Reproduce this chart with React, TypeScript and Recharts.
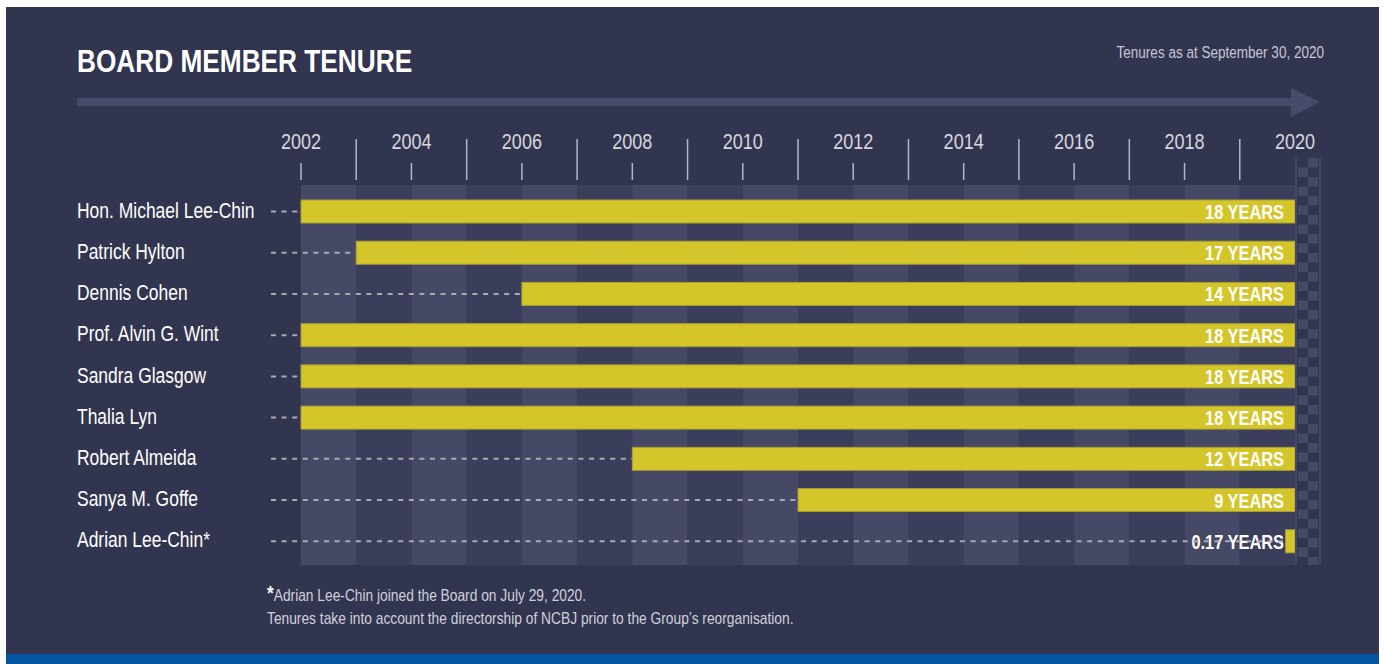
import React from 'react'
import { BarChart, Bar, XAxis, YAxis, ReferenceArea } from 'recharts'

const FONT = "'Liberation Sans', Arial, sans-serif"
const NARROW = 0.82

const years = [2002, 2003, 2004, 2005, 2006, 2007, 2008, 2009, 2010, 2011, 2012, 2013, 2014, 2015, 2016, 2017, 2018, 2019, 2020]
const members = [
  'Hon. Michael Lee-Chin',
  'Patrick Hylton',
  'Dennis Cohen',
  'Prof. Alvin G. Wint',
  'Sandra Glasgow',
  'Thalia Lyn',
  'Robert Almeida',
  'Sanya M. Goffe',
  'Adrian Lee-Chin*',
]
const tenures = [18, 17, 14, 18, 18, 18, 12, 9, 0.17]
const tenureLabels = ['18 YEARS', '17 YEARS', '14 YEARS', '18 YEARS', '18 YEARS', '18 YEARS', '12 YEARS', '9 YEARS', '0.17 YEARS']
const asAtYear = 2020

const data = members.map((name, i) => ({
  name,
  range: [asAtYear - tenures[i], asAtYear],
  label: tenureLabels[i],
}))

const PANEL = '#32354f'
const LIGHT = '#464966'
const DARK = '#3b3e5a'
const YELLOW = '#d4c52a'

// condensed look: Liberation Sans squeezed horizontally
function NText({ x, y, anchor = 'start', size, weight = 'normal', fill, children }: any) {
  return (
    <text
      transform={`translate(${x},${y}) scale(${NARROW},1)`}
      textAnchor={anchor}
      fontSize={size}
      fontWeight={weight}
      fill={fill}
      fontFamily={FONT}
    >
      {children}
    </text>
  )
}

function YearTick(props: any) {
  const { x, payload } = props
  const v = payload.value
  if (v % 2 === 1) {
    return <line x1={x} x2={x} y1={139} y2={180} stroke="#b4b6c6" strokeWidth={1.5} />
  }
  if (v === asAtYear) {
    return (
      <g>
        <defs>
          <pattern id="chk" x={x + 3} y={158} width={20} height={19} patternUnits="userSpaceOnUse">
            <rect x={10} y={0} width={10} height={9.5} fill={LIGHT} />
            <rect x={0} y={9.5} width={10} height={9.5} fill={LIGHT} />
          </pattern>
        </defs>
        <rect x={x + 3} y={158} width={20} height={407} fill="url(#chk)" />
        <rect x={x} y={158} width={2} height={407} fill={LIGHT} />
        <rect x={x + 24} y={158} width={2} height={407} fill={LIGHT} />
        <NText x={x} y={149} anchor="middle" size={22} fill="#d6d7df">{v}</NText>
      </g>
    )
  }
  return (
    <g>
      <NText x={x} y={149} anchor="middle" size={22} fill="#d6d7df">{v}</NText>
      <line x1={x} x2={x} y1={163} y2={180} stroke="#b4b6c6" strokeWidth={1.5} />
    </g>
  )
}

function NameTick(props: any) {
  const { y, payload } = props
  return <NText x={77} y={y + 6} size={21.3} fill="#ffffff">{payload.value}</NText>
}

function TenureBar(props: any) {
  const { x, y, width, height, payload } = props
  const cy = y + height / 2
  return (
    <g>
      <rect x={x} y={y} width={width} height={height} fill={YELLOW} stroke="#a89f33" strokeWidth={1} />
      <NText x={x + width - 11} y={cy + 7.5} anchor="end" size={20} weight="bold" fill="#ffffff">
        {payload.label}
      </NText>
      <line x1={271} x2={x} y1={cy} y2={cy} stroke="#a9a9b2" strokeWidth={2} strokeDasharray="5 5.6" />
    </g>
  )
}

function Stripe(props: any) {
  const { x, y, width, height, fill } = props
  return <rect x={x} y={y - 6} width={width} height={height + 9} fill={fill} />
}

export default function App() {
  return (
    <div style={{ position: 'absolute', left: 0, top: 0, width: 1384, height: 664, background: '#ffffff', overflow: 'hidden' }}>
      <svg width={1384} height={664} style={{ position: 'absolute', left: 0, top: 0 }}>
        <rect x={6} y={7} width={1373} height={647} fill={PANEL} />
        <rect x={6} y={654} width={1373} height={10} fill="#04559f" />
        <NText x={77} y={72} size={32} weight="bold" fill="#ffffff">BOARD MEMBER TENURE</NText>
        <NText x={1324} y={58} anchor="end" size={16.5} fill="#c5c7d3">Tenures as at September 30, 2020</NText>
        <rect x={77} y={98} width={1215} height={8} fill="#474a68" />
        <polygon points="1291,88 1320,102 1291,117" fill="#474a68" />
        <NText x={267} y={601} size={16.8} fill="#d0d1db">
          <tspan fontSize={21} fontWeight="bold" fill="#ffffff" dy={-1}>*</tspan>
          <tspan dy={1}>Adrian Lee-Chin joined the Board on July 29, 2020.</tspan>
        </NText>
        <NText x={267} y={624} size={16.8} fill="#d0d1db">
          Tenures take into account the directorship of NCBJ prior to the Group’s reorganisation.
        </NText>
      </svg>
      <div style={{ position: 'absolute', left: 0, top: 0 }}>
        <BarChart
          width={1384}
          height={664}
          data={data}
          layout="vertical"
          margin={{ top: 190, right: 89, bottom: 102, left: 300 }}
        >
          {years.slice(0, -1).map((yr, i) => (
            <ReferenceArea
              key={yr}
              x1={yr}
              x2={yr + 1}
              fill={i % 2 === 0 ? LIGHT : DARK}
              fillOpacity={1}
              stroke="none"
              shape={Stripe}
            />
          ))}
          <XAxis
            type="number"
            orientation="top"
            domain={[years[0], years[years.length - 1]]}
            ticks={years}
            interval={0}
            height={1}
            axisLine={false}
            tickLine={false}
            tick={YearTick}
          />
          <YAxis type="category" dataKey="name" width={1} axisLine={false} tickLine={false} tick={NameTick} interval={0} />
          <Bar dataKey="range" barSize={23} isAnimationActive={false} shape={TenureBar} />
        </BarChart>
      </div>
    </div>
  )
}
